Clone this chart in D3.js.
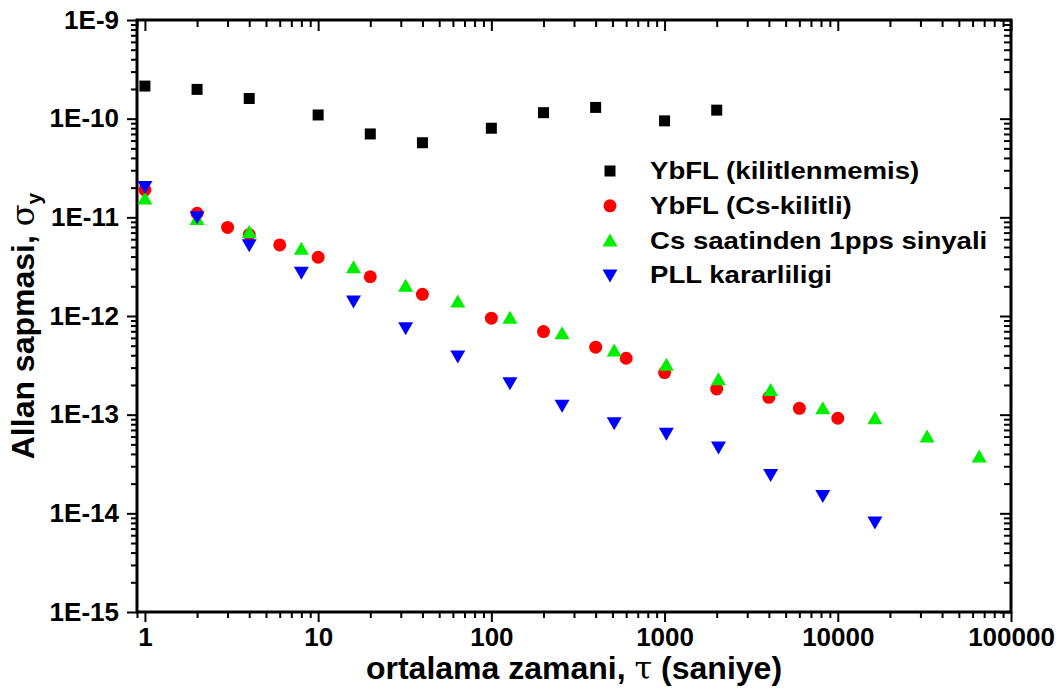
<!DOCTYPE html>
<html>
<head>
<meta charset="utf-8">
<script src="https://cdn.jsdelivr.net/npm/d3@7"></script>
<style>
  body { margin: 0; background: #fff; }
  svg { display: block; }
  text { font-family: "Liberation Sans", Arial, sans-serif; font-weight: bold; fill: #000; }
</style>
</head>
<body>
<svg width="1063" height="693"></svg>
<script>
// data
var tauUnlocked = [1, 2, 4, 10, 20, 40, 100, 200, 400, 1000, 2000];
var adevUnlocked = [2.14e-10, 1.98e-10, 1.6e-10, 1.09e-10, 7.0e-11, 5.7e-11, 8.0e-11, 1.15e-10, 1.3e-10, 9.5e-11, 1.22e-10];

var tauCsLocked = [1, 2, 3, 4, 6, 10, 20, 40, 100, 200, 400, 600, 1000, 2000, 4000, 6000, 10000];
var adevCsLocked = [1.9e-11, 1.1e-11, 7.9e-12, 6.7e-12, 5.25e-12, 3.94e-12, 2.5e-12, 1.66e-12, 9.5e-13, 6.95e-13, 4.83e-13, 3.73e-13, 2.67e-13, 1.82e-13, 1.5e-13, 1.16e-13, 9.2e-14];

var tauPps = [1, 2, 4, 8, 16, 32, 64, 128, 256, 512, 1024, 2048, 4096, 8192, 16384, 32768, 65536];
var adevPps = [1.55e-11, 9.6e-12, 7.1e-12, 4.8e-12, 3.12e-12, 2.03e-12, 1.4e-12, 9.6e-13, 6.7e-13, 4.46e-13, 3.2e-13, 2.29e-13, 1.78e-13, 1.16e-13, 9.2e-14, 6.0e-14, 3.77e-14];

var tauPll = [1, 2, 4, 8, 16, 32, 64, 128, 256, 512, 1024, 2048, 4096, 8192, 16384];
var adevPll = [2.03e-11, 1.0e-11, 5.2e-12, 2.75e-12, 1.4e-12, 7.5e-13, 3.88e-13, 2.08e-13, 1.23e-13, 8.2e-14, 6.39e-14, 4.64e-14, 2.45e-14, 1.5e-14, 8.07e-15];

var seriesNames = ['YbFL (kilitlenmemis)', 'YbFL (Cs-kilitli)', 'Cs saatinden 1pps sinyali', 'PLL kararliligi'];
var seriesColors = ['#000000', '#ff0000', '#00ee00', '#0000ff'];
var seriesShapes = ['square', 'circle', 'up', 'down'];

var xTickValues = [1, 10, 100, 1000, 10000, 100000];
var xTickLabels = ['1', '10', '100', '1000', '10000', '100000'];
var yTickValues = [1e-15, 1e-14, 1e-13, 1e-12, 1e-11, 1e-10, 1e-9];
var yTickLabels = ['1E-15', '1E-14', '1E-13', '1E-12', '1E-11', '1E-10', '1E-9'];

var svg = d3.select('svg');
// plot box (note: "top" is taken by window.top, so use other names)
var plotL = 137, plotR = 1011, plotT = 20, plotB = 612;

var x = d3.scaleLog().domain([0.9, 1e5]).range([plotL, plotR]);
var y = d3.scaleLog().domain([1e-15, 1e-9]).range([plotB, plotT]);

var xMinor = x.ticks().filter(function (d) { return xTickValues.indexOf(d) < 0; });
var yMinor = y.ticks().filter(function (d) { return yTickValues.indexOf(d) < 0; });

function styleAxis(g) {
    g.select('.domain').remove();
    g.selectAll('line').attr('stroke', '#000').attr('stroke-width', 2);
    g.selectAll('text').attr('font-size', 26).attr('fill', '#000').attr('font-family', '"Liberation Sans", Arial, sans-serif');
}

// bottom (outward)
svg.append('g').attr('transform', 'translate(0,' + plotB + ')')
    .call(d3.axisBottom(x).tickValues(xTickValues).tickSize(10).tickPadding(6)
        .tickFormat(function (d, i) { return xTickLabels[i]; }))
    .call(styleAxis);
svg.append('g').attr('transform', 'translate(0,' + plotB + ')')
    .call(d3.axisBottom(x).tickValues(xMinor).tickSize(6).tickFormat(''))
    .call(styleAxis);
// top (inward)
svg.append('g').attr('transform', 'translate(0,' + plotT + ')')
    .call(d3.axisTop(x).tickValues(xTickValues).tickSize(-11).tickFormat(''))
    .call(styleAxis);
svg.append('g').attr('transform', 'translate(0,' + plotT + ')')
    .call(d3.axisTop(x).tickValues(xMinor).tickSize(-7).tickFormat(''))
    .call(styleAxis);
// left (outward)
svg.append('g').attr('transform', 'translate(' + plotL + ',0)')
    .call(d3.axisLeft(y).tickValues(yTickValues).tickSize(10).tickPadding(8)
        .tickFormat(function (d, i) { return yTickLabels[i]; }))
    .call(styleAxis);
svg.append('g').attr('transform', 'translate(' + plotL + ',0)')
    .call(d3.axisLeft(y).tickValues(yMinor).tickSize(6).tickFormat(''))
    .call(styleAxis);
// right (inward)
svg.append('g').attr('transform', 'translate(' + plotR + ',0)')
    .call(d3.axisRight(y).tickValues(yTickValues).tickSize(-11).tickFormat(''))
    .call(styleAxis);
svg.append('g').attr('transform', 'translate(' + plotR + ',0)')
    .call(d3.axisRight(y).tickValues(yMinor).tickSize(-7).tickFormat(''))
    .call(styleAxis);

// frame
svg.append('rect')
    .attr('x', plotL).attr('y', plotT)
    .attr('width', plotR - plotL).attr('height', plotB - plotT)
    .attr('fill', 'none').attr('stroke', '#000').attr('stroke-width', 3);

// marker shapes
function shapePath(s) {
    if (s === 'square') return 'M-5.5,-5.5H5.5V5.5H-5.5Z';
    if (s === 'circle') return 'M-6.5,0A6.5,6.5 0 1,0 6.5,0A6.5,6.5 0 1,0 -6.5,0Z';
    if (s === 'up') return 'M0,-7L7.5,6H-7.5Z';
    return 'M0,7L7.5,-6H-7.5Z';
}

var series = [
    { tau: tauUnlocked, adev: adevUnlocked },
    { tau: tauCsLocked, adev: adevCsLocked },
    { tau: tauPps, adev: adevPps },
    { tau: tauPll, adev: adevPll }
];

series.forEach(function (s, k) {
    var pts = s.tau.map(function (t, i) { return { t: t, v: s.adev[i] }; });
    svg.append('g').selectAll('path')
        .data(pts).enter().append('path')
        .attr('d', shapePath(seriesShapes[k]))
        .attr('fill', seriesColors[k])
        .attr('transform', function (d) { return 'translate(' + x(d.t) + ',' + y(d.v) + ')'; });
});

// legend
var legend = svg.append('g').attr('transform', 'translate(610,171)');
seriesNames.forEach(function (name, k) {
    var row = legend.append('g').attr('transform', 'translate(0,' + (k * 34.8) + ')');
    row.append('path').attr('d', shapePath(seriesShapes[k])).attr('fill', seriesColors[k]);
    row.append('g').attr('transform', 'translate(40,8) scale(1.2,1)')
        .append('text').attr('font-size', 23).text(name);
});

// axis titles
var xt = svg.append('text').attr('x', 574).attr('y', 679)
    .attr('text-anchor', 'middle').attr('font-size', 32);
xt.append('tspan').text('ortalama zamani, ');
xt.append('tspan').attr('font-family', '"DejaVu Serif", serif').attr('font-weight', 'normal').text('τ');
xt.append('tspan').text(' (saniye)');

var yt = svg.append('text')
    .attr('transform', 'translate(34,326) rotate(-90)')
    .attr('text-anchor', 'middle').attr('font-size', 32);
yt.append('tspan').text('Allan sapmasi, ');
yt.append('tspan').attr('font-family', '"DejaVu Serif", serif').attr('font-weight', 'normal').text('σ');
yt.append('tspan').attr('font-size', 21).attr('dy', 7).text('y');
</script>
</body>
</html>
